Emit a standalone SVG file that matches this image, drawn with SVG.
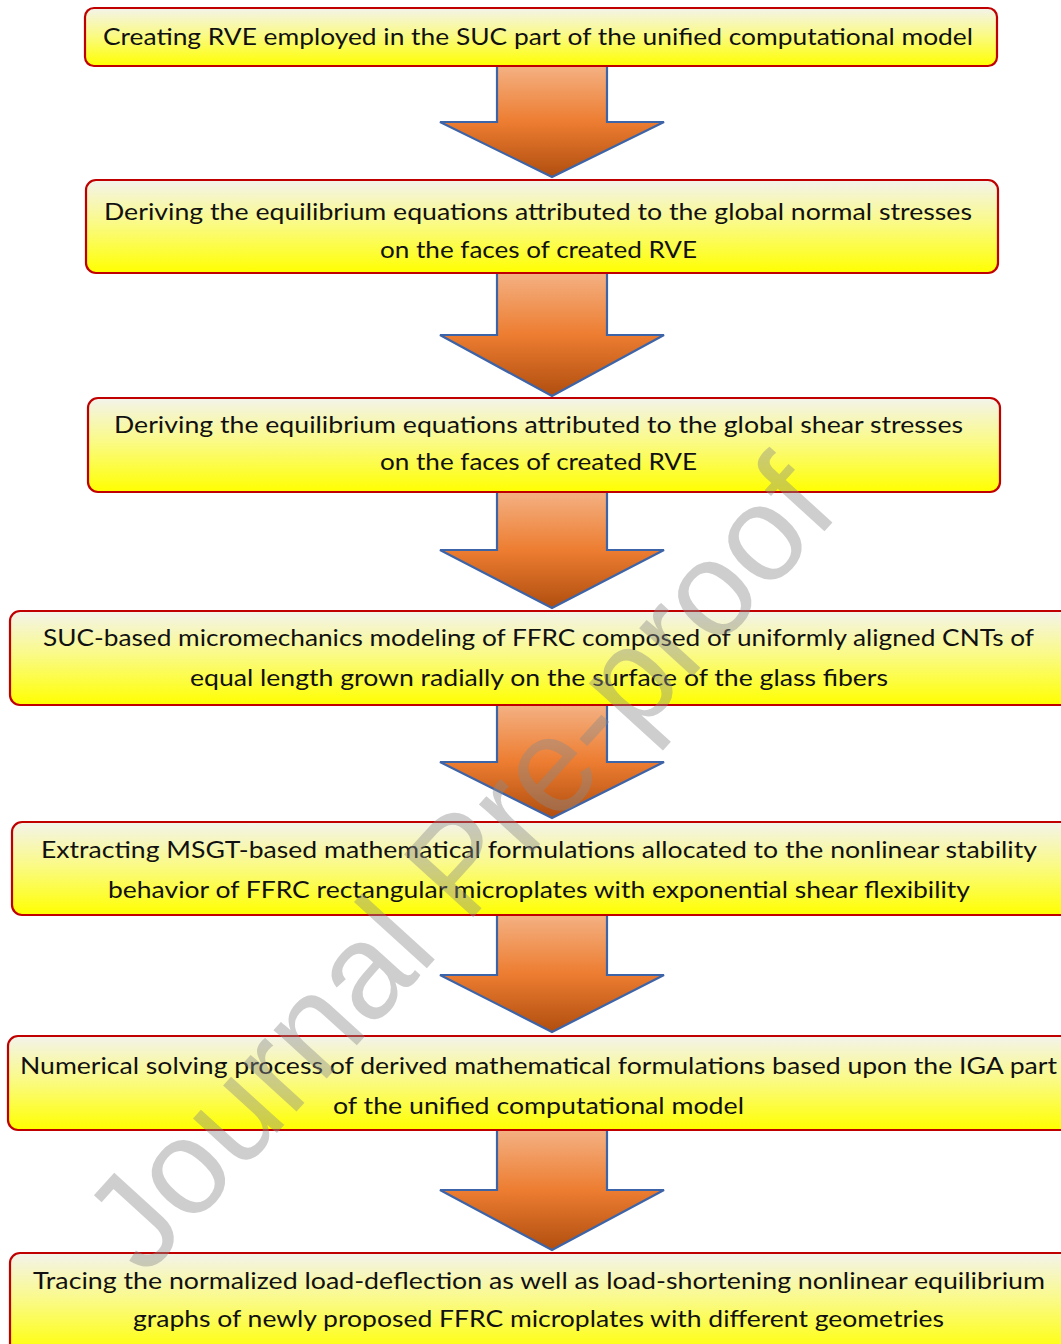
<svg xmlns="http://www.w3.org/2000/svg" width="1061" height="1344" viewBox="0 0 1061 1344">
<defs>
<linearGradient id="boxg" x1="0" y1="0" x2="0" y2="1">
<stop offset="0" stop-color="#F3F3EC"/>
<stop offset="0.45" stop-color="#FAFA8A"/>
<stop offset="1" stop-color="#FFFF00"/>
</linearGradient>
<linearGradient id="arrg" x1="0" y1="0" x2="0" y2="1">
<stop offset="0" stop-color="#F4B183"/>
<stop offset="0.5" stop-color="#ED7D31"/>
<stop offset="1" stop-color="#B04E0F"/>
</linearGradient>
<style>
.box{fill:url(#boxg);stroke:#C00000;stroke-width:2.2}
.arr{fill:url(#arrg);stroke:#3E64A8;stroke-width:2.2;stroke-linejoin:miter}
.t{font-family:Lato,"Open Sans","Liberation Sans",sans-serif;font-size:23.5px;fill:#111}
.wm{font-family:"Liberation Sans",Arial,sans-serif;font-size:136px;fill:#8a8a8a;fill-opacity:0.42}
</style>
</defs>
<g id="connectors">
<polygon class="arr" points="497,66 607,66 607,122 664,122 552,177 440,122 497,122"/>
<polygon class="arr" points="497,273 607,273 607,335 664,335 552,396 440,335 497,335"/>
<polygon class="arr" points="497,492 607,492 607,550 664,550 552,608 440,550 497,550"/>
<polygon class="arr" points="497,705 607,705 607,762 664,762 552,818 440,762 497,762"/>
<polygon class="arr" points="497,915 607,915 607,975 664,975 552,1032 440,975 497,975"/>
<polygon class="arr" points="497,1130 607,1130 607,1190 664,1190 552,1250 440,1190 497,1190"/>
</g>
<g id="node1">
<rect class="box" x="85" y="8" width="912" height="58" rx="9"/>
<text class="t" x="103" y="45" textLength="870" lengthAdjust="spacingAndGlyphs">Creating RVE employed in the SUC part of the unified computational model</text>
</g>
<g id="node2">
<rect class="box" x="86" y="180" width="912" height="93" rx="10"/>
<text class="t" x="104" y="220" textLength="868" lengthAdjust="spacingAndGlyphs">Deriving the equilibrium equations attributed to the global normal stresses</text>
<text class="t" x="380" y="258" textLength="317" lengthAdjust="spacingAndGlyphs">on the faces of created RVE</text>
</g>
<g id="node3">
<rect class="box" x="88" y="398" width="912" height="94" rx="10"/>
<text class="t" x="114" y="433" textLength="849" lengthAdjust="spacingAndGlyphs">Deriving the equilibrium equations attributed to the global shear stresses</text>
<text class="t" x="380" y="470" textLength="317" lengthAdjust="spacingAndGlyphs">on the faces of created RVE</text>
</g>
<g id="node4">
<rect class="box" x="10" y="611" width="1075" height="94" rx="10"/>
<text class="t" x="43" y="646" textLength="991" lengthAdjust="spacingAndGlyphs">SUC-based micromechanics modeling of FFRC composed of uniformly aligned CNTs of</text>
<text class="t" x="190" y="686" textLength="698" lengthAdjust="spacingAndGlyphs">equal length grown radially on the surface of the glass fibers</text>
</g>
<g id="node5">
<rect class="box" x="12" y="822" width="1075" height="93" rx="10"/>
<text class="t" x="41" y="858" textLength="996" lengthAdjust="spacingAndGlyphs">Extracting MSGT-based mathematical formulations allocated to the nonlinear stability</text>
<text class="t" x="108" y="898" textLength="862" lengthAdjust="spacingAndGlyphs">behavior of FFRC rectangular microplates with exponential shear flexibility</text>
</g>
<g id="node6">
<rect class="box" x="8" y="1036" width="1075" height="94" rx="10"/>
<text class="t" x="20" y="1074" textLength="1037" lengthAdjust="spacingAndGlyphs">Numerical solving process of derived mathematical formulations based upon the IGA part</text>
<text class="t" x="333" y="1114" textLength="411" lengthAdjust="spacingAndGlyphs">of the unified computational model</text>
</g>
<g id="node7">
<rect class="box" x="10" y="1253" width="1075" height="102" rx="10"/>
<text class="t" x="33" y="1289" textLength="1012" lengthAdjust="spacingAndGlyphs">Tracing the normalized load-deflection as well as load-shortening nonlinear equilibrium</text>
<text class="t" x="133" y="1327" textLength="811" lengthAdjust="spacingAndGlyphs">graphs of newly proposed FFRC microplates with different geometries</text>
</g>
<g id="watermark">
<text class="wm" transform="translate(145,1278) rotate(-47.7)" textLength="1035" lengthAdjust="spacingAndGlyphs">Journal Pre-proof</text>
</g>
</svg>
